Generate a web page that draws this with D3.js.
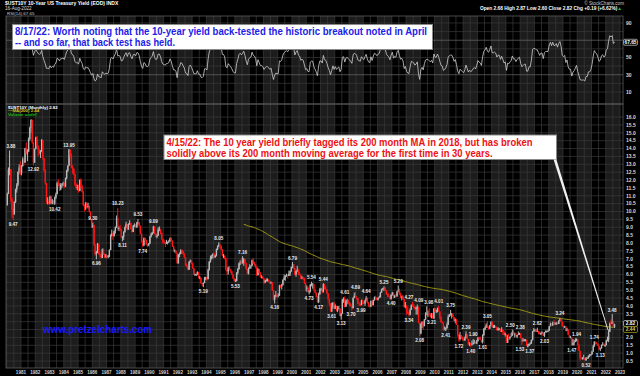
<!DOCTYPE html>
<html>
<head>
<meta charset="utf-8">
<script src="https://cdn.jsdelivr.net/npm/d3@7"></script>
<style>
body { margin: 0; background: #000; }
svg { display: block; font-family: "Liberation Sans", Arial, sans-serif; }
</style>
</head>
<body>
<div id="chart"></div>
<script>
// monthly $UST10Y, Jan 1980 .. Aug 2022 (EOD based bars)
var startYear = 1980, firstOpen = 10.39;

var closes = [
    11.12,12.65,12.70,10.80,10.10,9.80,10.60,11.40,11.70,12.50,12.80,12.43,
    12.90,13.30,13.10,14.00,13.70,13.80,14.60,15.30,15.84,14.40,13.10,13.98,
    14.70,14.20,13.90,13.70,13.80,14.55,13.40,12.60,11.80,10.60,10.60,10.50,
    10.95,10.50,10.70,10.50,10.90,11.10,11.80,11.70,11.40,11.70,11.70,11.80,
    11.60,12.10,12.60,12.90,13.95,13.60,12.80,12.70,12.40,11.70,11.50,11.55,
    11.30,12.00,11.60,11.25,10.40,10.20,10.50,10.30,10.35,10.00,9.50,9.00,
    9.15,7.90,7.30,7.40,7.95,7.30,7.25,7.05,7.60,7.30,7.10,7.20,
    7.10,7.15,7.55,8.50,8.60,8.45,8.75,9.00,9.60,8.90,8.95,8.85,
    8.35,8.40,8.70,9.00,9.20,8.85,9.20,9.25,8.90,8.70,9.10,9.15,
    9.00,9.30,9.30,9.10,8.60,8.10,7.85,8.30,8.20,7.90,7.85,7.95,
    8.40,8.55,8.65,9.05,8.60,8.40,8.45,8.85,8.85,8.65,8.25,8.05,
    8.00,7.95,8.05,8.05,8.10,8.30,8.15,7.80,7.50,7.50,7.35,6.70,
    7.25,7.30,7.55,7.50,7.30,7.10,6.60,6.55,6.30,6.80,6.90,6.70,
    6.40,6.00,6.00,6.00,6.15,5.80,5.80,5.45,5.40,5.45,5.80,5.80,
    5.70,6.30,6.80,7.05,7.15,7.30,7.10,7.20,7.60,7.80,7.90,7.80,
    7.60,7.20,7.20,7.05,6.30,6.20,6.45,6.30,6.20,6.00,5.75,5.60,
    5.60,6.10,6.35,6.70,6.80,6.70,6.80,6.95,6.70,6.35,6.05,6.40,
    6.50,6.55,6.90,6.70,6.65,6.50,5.95,6.35,6.10,5.85,5.85,5.75,
    5.50,5.60,5.65,5.65,5.55,5.45,5.50,5.00,4.40,4.60,4.70,4.65,
    4.65,5.30,5.25,5.35,5.65,5.80,5.90,5.95,5.90,6.05,6.20,6.45,
    6.65,6.40,6.00,6.20,6.30,6.05,6.00,5.75,5.80,5.75,5.45,5.10,
    5.15,4.90,4.90,5.35,5.40,5.40,5.05,4.85,4.60,4.25,4.75,5.05,
    5.05,4.90,5.40,5.10,5.05,4.80,4.45,4.15,3.65,3.90,4.20,3.82,
    4.00,3.70,3.80,3.85,3.35,3.50,4.40,4.45,3.95,4.30,4.35,4.25,
    4.15,4.00,3.85,4.50,4.65,4.60,4.50,4.15,4.10,4.05,4.35,4.25,
    4.15,4.35,4.50,4.20,4.00,3.95,4.30,4.05,4.35,4.55,4.50,4.40,
    4.50,4.55,4.85,5.05,5.10,5.15,5.00,4.75,4.65,4.60,4.45,4.70,
    4.85,4.55,4.65,4.60,4.90,5.00,4.75,4.55,4.60,4.45,3.95,4.05,
    3.65,3.50,3.45,3.75,4.05,4.00,3.95,3.80,3.85,3.95,2.95,2.25,
    2.85,3.00,2.70,3.15,3.45,3.50,3.50,3.40,3.30,3.40,3.20,3.85,
    3.60,3.60,3.85,3.65,3.30,2.95,2.90,2.45,2.50,2.60,2.80,3.30,
    3.40,3.45,3.45,3.30,3.05,3.15,2.80,2.20,1.90,2.15,2.05,1.90,
    1.80,1.95,2.20,1.90,1.55,1.65,1.50,1.55,1.65,1.70,1.60,1.75,
    2.00,1.90,1.85,1.70,2.15,2.50,2.60,2.80,2.60,2.55,2.75,3.00,
    2.65,2.65,2.70,2.65,2.45,2.55,2.55,2.35,2.50,2.35,2.15,2.20,
    1.65,2.00,1.95,2.05,2.10,2.35,2.20,2.20,2.05,2.15,2.20,2.25,
    1.95,1.75,1.80,1.85,1.85,1.45,1.45,1.60,1.60,1.85,2.40,2.45,
    2.45,2.40,2.40,2.30,2.20,2.30,2.30,2.10,2.35,2.40,2.40,2.40,
    2.70,2.85,2.75,2.95,2.85,2.85,2.95,2.85,3.05,3.15,3.00,2.70,
    2.65,2.70,2.40,2.50,2.15,2.00,2.00,1.50,1.65,1.70,1.80,1.90,
    1.50,1.15,0.70,0.65,0.65,0.65,0.55,0.70,0.70,0.85,0.85,0.92,
    1.10,1.45,1.74,1.65,1.60,1.45,1.25,1.30,1.50,1.55,1.45,1.50,
    1.80,1.85,2.35,2.90,2.85,3.00,2.68,2.82
];

var highs = [
    11.20,12.80,13.88,12.70,10.90,10.20,10.65,11.45,11.80,12.55,13.00,13.20,
    12.95,13.45,13.40,14.05,14.40,13.95,14.70,15.40,15.84,15.80,14.40,14.00,
    14.75,14.80,14.20,14.00,13.90,14.60,14.50,13.40,12.70,11.80,10.90,10.70,
    11.00,11.00,10.80,10.70,10.95,11.20,11.90,12.05,11.80,11.80,11.80,11.90,
    11.85,12.15,12.65,12.95,13.95,13.90,13.70,12.95,12.75,12.40,11.80,11.70,
    11.70,12.05,12.10,11.70,11.30,10.45,10.60,10.60,10.55,10.40,10.00,9.50,
    9.30,9.15,7.95,7.50,8.00,7.95,7.45,7.30,7.65,7.65,7.35,7.30,
    7.25,7.25,7.60,8.55,8.85,8.65,8.80,9.05,9.75,10.23,9.05,9.15,
    8.90,8.45,8.75,9.05,9.35,9.20,9.25,9.45,9.30,8.90,9.15,9.25,
    9.20,9.35,9.53,9.35,9.10,8.60,8.15,8.35,8.35,8.20,7.95,8.00,
    8.45,8.65,8.70,9.09,9.05,8.60,8.55,9.00,9.05,8.90,8.65,8.25,
    8.20,8.05,8.20,8.10,8.20,8.35,8.35,8.15,7.80,7.60,7.50,7.35,
    7.30,7.40,7.60,7.60,7.50,7.35,7.10,6.70,6.55,6.85,6.95,6.90,
    6.75,6.40,6.05,6.05,6.20,6.15,5.90,5.80,5.45,5.50,5.85,5.85,
    5.85,6.35,6.85,7.20,7.25,7.35,7.40,7.25,7.65,7.85,8.05,7.90,
    7.85,7.60,7.30,7.20,7.05,6.30,6.50,6.55,6.35,6.20,6.00,5.75,
    5.70,6.15,6.40,6.75,6.90,7.05,7.16,7.05,7.00,6.75,6.35,6.45,
    6.65,6.60,6.95,7.05,6.80,6.65,6.50,6.40,6.35,6.15,5.95,5.90,
    5.75,5.65,5.75,5.75,5.70,5.55,5.55,5.50,5.00,4.70,4.95,4.75,
    4.80,5.35,5.35,5.40,5.70,6.00,5.95,6.05,6.00,6.25,6.25,6.50,
    6.79,6.65,6.40,6.25,6.55,6.35,6.15,6.00,5.90,5.85,5.80,5.45,
    5.30,5.25,5.00,5.40,5.54,5.45,5.40,5.05,4.85,4.65,4.85,5.15,
    5.15,5.05,5.44,5.40,5.25,5.05,4.80,4.45,4.15,4.20,4.25,4.25,
    4.10,4.00,4.00,4.00,3.85,3.55,4.45,4.55,4.61,4.40,4.45,4.40,
    4.25,4.15,4.00,4.55,4.85,4.89,4.60,4.50,4.25,4.15,4.40,4.40,
    4.30,4.40,4.64,4.55,4.25,4.10,4.35,4.40,4.40,4.60,4.65,4.55,
    4.55,4.65,4.90,5.10,5.15,5.25,5.20,5.00,4.80,4.80,4.65,4.75,
    4.90,4.85,4.70,4.75,4.95,5.29,5.10,4.85,4.65,4.70,4.45,4.25,
    4.05,3.95,3.60,3.85,4.10,4.27,4.15,4.00,3.95,4.09,3.95,2.95,
    2.90,3.00,3.05,3.15,3.60,3.98,3.70,3.85,3.55,3.55,3.55,3.85,
    3.85,3.75,3.90,4.01,3.65,3.35,3.05,2.95,2.70,2.65,2.95,3.45,
    3.50,3.75,3.55,3.55,3.30,3.20,3.15,2.80,2.20,2.35,2.15,2.05,
    2.00,2.05,2.39,2.20,1.90,1.70,1.65,1.80,1.90,1.85,1.75,1.85,
    2.00,2.05,2.05,1.85,2.20,2.60,2.70,2.90,3.05,2.70,2.80,3.00,
    3.00,2.80,2.80,2.75,2.65,2.65,2.60,2.55,2.65,2.50,2.40,2.30,
    2.15,2.15,2.25,2.05,2.30,2.50,2.45,2.30,2.30,2.15,2.38,2.30,
    2.25,2.00,1.95,1.90,1.90,1.85,1.60,1.60,1.70,1.85,2.40,2.60,
    2.55,2.50,2.62,2.40,2.40,2.30,2.40,2.30,2.35,2.45,2.45,2.50,
    2.72,2.95,2.90,3.00,3.10,2.95,2.95,3.00,3.10,3.24,3.20,3.00,
    2.75,2.75,2.70,2.60,2.50,2.15,2.10,2.00,1.90,1.85,1.95,1.94,
    1.90,1.60,1.15,0.75,0.75,0.90,0.70,0.75,0.75,0.85,0.95,0.95,
    1.15,1.55,1.74,1.70,1.70,1.60,1.45,1.35,1.55,1.70,1.65,1.55,
    1.85,2.05,2.50,2.95,3.15,3.48,3.05,2.87
];

var lows = [
    10.39,11.10,12.30,10.60,9.60,9.47,9.90,10.55,11.20,11.60,12.40,12.30,
    12.30,12.85,12.90,13.10,13.60,13.20,13.80,14.50,15.00,14.30,12.92,13.10,
    13.95,14.10,13.50,13.60,13.40,13.80,13.30,12.50,11.70,10.50,10.45,10.45,
    10.45,10.45,10.45,10.45,10.42,10.80,11.10,11.60,11.30,11.35,11.50,11.60,
    11.50,11.55,12.05,12.50,12.90,13.40,12.75,12.40,12.30,11.60,11.40,11.35,
    11.20,11.30,11.50,11.20,10.35,10.00,10.10,10.20,10.20,9.95,9.45,8.95,
    8.95,7.85,7.20,6.96,7.35,7.25,7.10,7.00,7.05,7.25,7.05,7.05,
    7.00,7.05,7.10,7.55,8.40,8.20,8.40,8.60,8.95,8.80,8.75,8.75,
    8.30,8.11,8.20,8.65,8.95,8.80,8.85,9.15,8.85,8.65,8.70,9.00,
    8.95,8.95,9.20,9.05,8.55,8.05,7.74,7.80,8.10,7.85,7.75,7.80,
    7.95,8.35,8.50,8.60,8.55,8.35,8.30,8.45,8.75,8.55,8.20,7.95,
    7.95,7.75,7.95,7.90,8.00,8.10,8.10,7.75,7.45,7.40,7.30,6.70,
    6.70,7.10,7.30,7.40,7.25,7.05,6.55,6.45,6.25,6.30,6.75,6.65,
    6.35,5.95,5.90,5.90,5.95,5.75,5.70,5.40,5.25,5.19,5.45,5.65,
    5.60,5.70,6.25,6.75,6.95,7.00,7.05,7.05,7.15,7.55,7.75,7.65,
    7.55,7.15,7.05,6.95,6.25,5.95,6.00,6.25,6.10,5.95,5.70,5.55,
    5.53,5.55,6.00,6.30,6.60,6.65,6.70,6.55,6.65,6.30,6.00,6.00,
    6.35,6.35,6.55,6.65,6.55,6.40,5.90,5.95,6.05,5.80,5.75,5.70,
    5.40,5.45,5.55,5.55,5.50,5.40,5.40,4.95,4.35,4.16,4.55,4.50,
    4.55,4.65,5.15,5.05,5.30,5.65,5.60,5.85,5.75,5.90,5.90,6.15,
    6.40,6.35,5.95,5.85,6.15,5.95,5.95,5.70,5.70,5.65,5.40,4.95,
    4.90,4.85,4.73,4.85,5.25,5.10,5.00,4.80,4.55,4.20,4.17,4.70,
    4.95,4.80,4.85,5.05,5.00,4.75,4.40,4.00,3.63,3.61,3.85,3.80,
    3.80,3.65,3.60,3.80,3.35,3.13,3.50,4.20,3.90,3.95,4.10,4.10,
    4.00,3.95,3.70,3.85,4.50,4.55,4.40,4.10,4.00,3.99,4.05,4.10,
    4.10,4.00,4.30,4.15,3.95,3.89,3.95,4.00,4.05,4.35,4.40,4.35,
    4.35,4.50,4.55,4.85,5.00,4.95,4.95,4.70,4.55,4.55,4.42,4.40,
    4.65,4.50,4.50,4.55,4.60,4.90,4.70,4.50,4.35,4.40,3.90,3.85,
    3.45,3.50,3.34,3.40,3.75,3.95,3.85,3.75,3.45,3.45,2.90,2.08,
    2.20,2.60,2.50,2.75,3.10,3.45,3.30,3.40,3.25,3.21,3.20,3.20,
    3.60,3.60,3.60,3.65,3.15,2.95,2.90,2.45,2.50,2.41,2.55,2.80,
    3.30,3.40,3.20,3.30,3.05,2.90,2.80,2.05,1.72,1.80,1.90,1.80,
    1.80,1.80,1.95,1.90,1.55,1.45,1.40,1.50,1.60,1.60,1.60,1.60,
    1.75,1.85,1.85,1.65,1.61,2.10,2.45,2.60,2.60,2.50,2.55,2.75,
    2.65,2.60,2.60,2.60,2.45,2.45,2.45,2.35,2.35,2.15,2.15,2.05,
    1.65,1.70,1.90,1.85,2.05,2.15,2.20,2.00,2.05,1.95,2.15,2.15,
    1.95,1.53,1.75,1.75,1.75,1.45,1.37,1.50,1.55,1.60,1.80,2.35,
    2.35,2.35,2.35,2.20,2.20,2.15,2.25,2.10,2.03,2.30,2.30,2.35,
    2.45,2.75,2.75,2.75,2.80,2.85,2.80,2.80,2.85,3.05,3.00,2.70,
    2.55,2.60,2.40,2.45,2.15,1.95,1.95,1.47,1.50,1.50,1.75,1.75,
    1.50,1.15,0.54,0.60,0.60,0.65,0.55,0.52,0.65,0.65,0.75,0.85,
    0.92,1.10,1.40,1.55,1.55,1.45,1.20,1.13,1.30,1.50,1.45,1.40,
    1.50,1.75,1.70,2.35,2.75,2.90,2.65,2.60
];

// peak / trough annotations: [year, month(0-11), text, 'h' above high | 'l' below low]
var pivots = [
    [1980,2,"13.88","h"], [1980,5,"9.47","l"], [1981,10,"12.92","l"], [1983,4,"10.42","l"],
    [1984,4,"13.95","h"], [1986,0,"9.30","h"], [1986,3,"6.96","l"], [1987,9,"10.23","h"],
    [1988,1,"8.11","l"], [1989,2,"9.53","h"], [1989,6,"7.74","l"], [1990,3,"9.09","h"],
    [1993,9,"5.19","l"], [1994,10,"8.05","h"], [1996,0,"5.53","l"], [1996,6,"7.16","h"],
    [1998,9,"4.16","l"], [2000,0,"6.79","h"], [2001,2,"4.73","l"], [2001,4,"5.54","h"],
    [2001,10,"4.17","l"], [2002,2,"5.44","h"], [2002,9,"3.61","l"], [2003,5,"3.13","l"],
    [2003,8,"4.61","h"], [2004,2,"3.70","l"], [2004,5,"4.89","h"], [2004,9,"3.99","l"],
    [2005,2,"4.64","h"], [2006,5,"5.25","h"], [2006,11,"4.40","l"], [2007,5,"5.29","h"],
    [2008,2,"3.34","l"], [2008,5,"4.27","h"], [2008,9,"4.09","h"], [2008,11,"2.08","l"],
    [2009,5,"3.98","h"], [2009,9,"3.21","l"], [2010,3,"4.01","h"], [2010,9,"2.41","l"],
    [2011,1,"3.75","h"], [2011,8,"1.72","l"], [2012,2,"2.39","h"], [2012,6,"1.40","l"],
    [2012,8,"1.90","h"], [2013,4,"1.61","l"], [2013,8,"3.05","h"], [2015,5,"2.50","h"],
    [2015,10,"2.38","h"], [2016,1,"1.53","l"], [2016,6,"1.37","l"], [2017,2,"2.62","h"],
    [2017,8,"2.03","l"], [2018,9,"3.24","h"], [2019,7,"1.47","l"], [2019,11,"1.94","h"],
    [2020,7,"0.52","l"], [2021,2,"1.74","h"], [2021,7,"1.13","l"], [2022,5,"3.48","h"]
];

var yearLabels = d3.range(1981, 2024);
var priceTicks = d3.range(1, 33).map(function(i) { return i / 2; });
var rsiTicks = [10, 30, 50, 70, 90];
var lastClose = 2.82, lastMa = 2.44, lastRsi = 67.65;

var note1 = ["8/17/22:  Worth noting that the 10-year yield back-tested the historic breakout noted in April",
             "-- and so far, that back test has held."];
var note2 = ["4/15/22:  The 10 year yield briefly tagged its 200 month MA in 2018, but has broken",
             "solidly above its 200 month moving average for the first time in 30 years."];

var width = 640, height = 376;
var left = 6, right = 623,
    rsiTop = 16, rsiBottom = 104,
    mainTop = 104, mainBottom = 368;

var svg = d3.select("#chart").append("svg")
    .attr("width", width)
    .attr("height", height)
    .style("background", "#000");

var x = d3.scaleTime()
    .domain([new Date(1980, 0, 1), new Date(2023, 0, 1)])
    .range([6.7, 620]);
var y = d3.scaleLinear().domain([0, 16.5]).range([368.9, 368.9 - 16.5 * 15.74]);
var yr = d3.scaleLinear().domain([0, 100]).range([100.6, 14.35]);

// build bars
var bars = closes.map(function(c, i) {
    return {
        date: new Date(startYear, i, 15),
        open: i === 0 ? firstOpen : closes[i - 1],
        high: highs[i], low: lows[i], close: c
    };
});

// moving average 200
var ma = [];
bars.forEach(function(d, i) {
    if (i >= 199) ma.push({date: d.date, v: d3.mean(closes.slice(i - 199, i + 1))});
});

// RSI(14), Wilder smoothing
var rsi = [], ag = 0, al = 0;
for (var i = 1; i < closes.length; i++) {
    var ch = closes[i] - closes[i - 1], g = Math.max(ch, 0), l = Math.max(-ch, 0);
    if (i <= 14) { ag += g / 14; al += l / 14; }
    else { ag = (ag * 13 + g) / 14; al = (al * 13 + l) / 14; }
    if (i >= 14) rsi.push({date: bars[i].date, v: al === 0 ? 100 : 100 - 100 / (1 + ag / al)});
}

var defs = svg.append("defs");
defs.append("clipPath").attr("id", "clipMain").append("rect")
    .attr("x", left).attr("y", mainTop).attr("width", right - left).attr("height", mainBottom - mainTop);
defs.append("clipPath").attr("id", "clipRsi").append("rect")
    .attr("x", left).attr("y", rsiTop).attr("width", right - left).attr("height", rsiBottom - rsiTop);

function panelBack(top, bottom, clip, hTicks, hScale) {
    var g = svg.append("g").attr("clip-path", "url(#" + clip + ")");
    g.append("rect").attr("x", left).attr("y", top).attr("width", right - left)
        .attr("height", bottom - top).attr("fill", "#000");
    // alternating year bands
    g.selectAll(".band").data(d3.range(1980, 2024, 2)).enter().append("rect")
        .attr("x", function(d) { return x(new Date(d, 0, 1)); })
        .attr("width", function(d) { return x(new Date(d + 1, 0, 1)) - x(new Date(d, 0, 1)); })
        .attr("y", top).attr("height", bottom - top)
        .attr("fill", "#1c1c1c");
    g.selectAll(".vg").data(d3.range(1980, 2023.5, 0.5)).enter().append("line")
        .attr("x1", function(d) { return x(new Date(Math.floor(d), (d % 1) * 12, 1)); })
        .attr("x2", function(d) { return x(new Date(Math.floor(d), (d % 1) * 12, 1)); })
        .attr("y1", top).attr("y2", bottom)
        .attr("stroke", "#3a3a3a").attr("stroke-width", 0.7);
    g.selectAll(".hg").data(hTicks).enter().append("line")
        .attr("x1", left).attr("x2", right)
        .attr("y1", function(d) { return hScale(d); }).attr("y2", function(d) { return hScale(d); })
        .attr("stroke", function(d) { return (clip === "clipRsi" && (d === 30 || d === 70)) ? "#6a6a6a" : "#3a3a3a"; })
        .attr("stroke-width", 0.7);
    return g;
}

var gRsi = panelBack(rsiTop, rsiBottom, "clipRsi", d3.range(10, 100, 10), yr);
var gMain = panelBack(mainTop, mainBottom, "clipMain", priceTicks, y);

// RSI line
gRsi.append("path").datum(rsi)
    .attr("fill", "none").attr("stroke", "#cfcfcf").attr("stroke-width", 0.8)
    .attr("d", d3.line().x(function(d) { return x(d.date); }).y(function(d) { return yr(d.v); }));

// MA(200)
gMain.append("path").datum(ma)
    .attr("fill", "none").attr("stroke", "#aaa414").attr("stroke-width", 0.9)
    .attr("d", d3.line().x(function(d) { return x(d.date); }).y(function(d) { return y(d.v); }));

// candles
var candle = gMain.selectAll(".candle").data(bars).enter().append("g");
candle.append("rect")
    .attr("x", function(d) { return x(d.date) - 0.5; })
    .attr("width", 1)
    .attr("y", function(d) { return y(d.high); })
    .attr("height", function(d) { return Math.max(0.8, y(d.low) - y(d.high)); })
    .attr("fill", function(d) { return d.close < d.open ? "#ff1414" : "#b9b9b9"; });
candle.append("rect")
    .attr("x", function(d) { return x(d.date) - 0.7; })
    .attr("width", 1.4)
    .attr("y", function(d) { return y(Math.max(d.open, d.close)); })
    .attr("height", function(d) { return Math.max(0.6, Math.abs(y(d.open) - y(d.close))); })
    .attr("fill", function(d) { return d.close < d.open ? "#ff1414" : "#b9b9b9"; });

// pivot labels
var piv = gMain.selectAll(".piv").data(pivots).enter().append("text")
    .attr("x", function(d) { return x(new Date(d[0], d[1], 15)); })
    .attr("y", function(d) {
        var b = bars[(d[0] - startYear) * 12 + d[1]];
        return d[3] === "h" ? y(b.high) - 2.5 : y(b.low) + 5.8;
    })
    .attr("text-anchor", "middle")
    .attr("font-size", 4.6).attr("font-weight", "bold")
    .attr("fill", "#e8e8e8")
    .text(function(d) { return d[2]; });

// push apart labels that collide (all pairs, a few passes)
var boxes = [];
piv.each(function() {
    var b = this.getBBox();
    boxes.push({el: this, x: b.x, y: b.y, w: b.width, h: b.height, cx: +this.getAttribute("x")});
});
boxes.sort(function(a, b) { return a.x - b.x; });
for (var pass = 0; pass < 4; pass++) {
    for (var m = 0; m < boxes.length; m++) {
        for (var n = m + 1; n < boxes.length; n++) {
            var a = boxes[m], b = boxes[n];
            if (Math.abs(a.y - b.y) >= a.h) continue;
            var ov = Math.min(a.x + a.w, b.x + b.w) - Math.max(a.x, b.x) + 0.6;
            if (ov > 0) {
                var s = a.x <= b.x ? 1 : -1;
                a.x -= s * ov / 2; a.cx -= s * ov / 2;
                b.x += s * ov / 2; b.cx += s * ov / 2;
            }
        }
    }
}
boxes.forEach(function(b) { b.el.setAttribute("x", b.cx); });

// panel frames
[[rsiTop, rsiBottom], [mainTop, mainBottom]].forEach(function(p) {
    svg.append("rect").attr("x", left).attr("y", p[0]).attr("width", right - left)
        .attr("height", p[1] - p[0]).attr("fill", "none").attr("stroke", "#5c5c5c").attr("stroke-width", 0.8);
});

// value tags on the right axis (price, MA, RSI)
var tagPrice = y(lastClose) - 1, tagMa = tagPrice + 6, tagRsi = yr(lastRsi);

// right axes: tick labels hidden behind the value tags are left out
svg.append("g").selectAll("text")
    .data(priceTicks.filter(function(d) { return Math.abs(y(d) - tagPrice) > 4 && Math.abs(y(d) - tagMa) > 4; }))
    .enter().append("text")
    .attr("x", 626).attr("y", function(d) { return y(d) + 1.8; })
    .attr("font-size", 5).attr("font-weight", "bold").attr("fill", "#d8d8d8")
    .text(d3.format(".1f"));
svg.append("g").selectAll("text")
    .data(rsiTicks.filter(function(d) { return Math.abs(yr(d) - tagRsi) > 4; }))
    .enter().append("text")
    .attr("x", 626).attr("y", function(d) { return yr(d) + 1.8; })
    .attr("font-size", 5).attr("font-weight", "bold").attr("fill", "#d8d8d8")
    .text(function(d) { return d; });

function valueTag(yy, stroke, fill, txt) {
    svg.append("rect").attr("x", 623.5).attr("y", yy - 3).attr("width", 14).attr("height", 6)
        .attr("rx", 1.5).attr("fill", "#000").attr("stroke", stroke).attr("stroke-width", 0.7);
    svg.append("text").attr("x", 630.5).attr("y", yy + 1.8).attr("text-anchor", "middle")
        .attr("font-size", 4.8).attr("font-weight", "bold").attr("fill", fill).text(txt);
}
valueTag(tagPrice, "#cfcfcf", "#ffffff", d3.format(".2f")(lastClose));
valueTag(tagMa, "#aaa414", "#d8d060", d3.format(".2f")(lastMa));
valueTag(tagRsi, "#cfcfcf", "#ffffff", d3.format(".2f")(lastRsi));

// year labels
svg.append("g").selectAll("text").data(yearLabels).enter().append("text")
    .attr("x", function(d) { return x(new Date(d, 0, 1)); })
    .attr("y", 373.6)
    .attr("text-anchor", "middle")
    .attr("font-size", 4.6).attr("font-weight", "bold").attr("fill", "#cfcfcf")
    .text(function(d) { return d; });

// header
svg.append("text").attr("x", 5).attr("y", 5.2).attr("font-size", 5).attr("font-weight", "bold")
    .attr("fill", "#fff").text("$UST10Y 10-Year US Treasury Yield (EOD) INDX");
svg.append("text").attr("x", 5).attr("y", 9.6).attr("font-size", 4.6).attr("fill", "#ddd").text("16-Aug-2022");
svg.append("text").attr("x", 7).attr("y", 15).attr("font-size", 4.4).attr("fill", "#ccc").text("RSI(14) 67.65");
svg.append("text").attr("x", 624).attr("y", 4.6).attr("text-anchor", "end").attr("font-size", 4.6)
    .attr("fill", "#ccc").text("\u00a9 StockCharts.com");
var ohlc = svg.append("text").attr("x", 622).attr("y", 10.2).attr("text-anchor", "end")
    .attr("font-size", 4.8).attr("font-weight", "bold").attr("fill", "#fff");
ohlc.append("tspan").text("Open 2.68  High 2.87  Low 2.60  Close 2.82  Chg +0.19 (+6.62%)");
ohlc.append("tspan").attr("fill", "#20c020").text("\u25b2");

// main legend
svg.append("text").attr("x", 8).attr("y", 108.6).attr("font-size", 4.4).attr("font-weight", "bold")
    .attr("fill", "#fff").text("$UST10Y (Monthly) 2.82");
svg.append("text").attr("x", 8).attr("y", 112.4).attr("font-size", 4.4).attr("font-weight", "bold")
    .attr("fill", "#c8c020").text("\u2014MA(200) 2.44");
svg.append("text").attr("x", 8).attr("y", 116.2).attr("font-size", 4.4).attr("font-weight", "bold")
    .attr("fill", "#10c010").text("Volume undef");

// notes
function note(bx, by, bw, bh, lines, widths, color, tx, base, gap) {
    svg.append("rect").attr("x", bx).attr("y", by).attr("width", bw).attr("height", bh)
        .attr("fill", "#fff").attr("stroke", "#8a8a8a").attr("stroke-width", 1);
    lines.forEach(function(t, i) {
        svg.append("text").attr("x", tx).attr("y", base + i * gap)
            .attr("font-size", 10).attr("font-weight", "bold").attr("fill", color)
            .attr("textLength", widths[i]).attr("lengthAdjust", "spacingAndGlyphs")
            .text(t);
    });
}
note(12.5, 24.5, 420, 25, note1, [412, 160], "#1c22e8", 15, 35.4, 11);
note(164, 135, 392.5, 24.5, note2, [366, 326], "#ee1111", 166.5, 146.4, 10.7);

// arrow to the MA break
svg.append("path")
    .attr("d", "M553.6,159.5 L556.4,159.5 L608.4,330 L607.6,330 Z")
    .attr("fill", "#f0f0f0");

svg.append("text").attr("x", 43).attr("y", 332.6)
    .attr("font-size", 10).attr("font-weight", "bold").attr("fill", "#1a1aff")
    .attr("textLength", 109).attr("lengthAdjust", "spacingAndGlyphs")
    .text("www.pretzelcharts.com");
</script>
</body>
</html>
